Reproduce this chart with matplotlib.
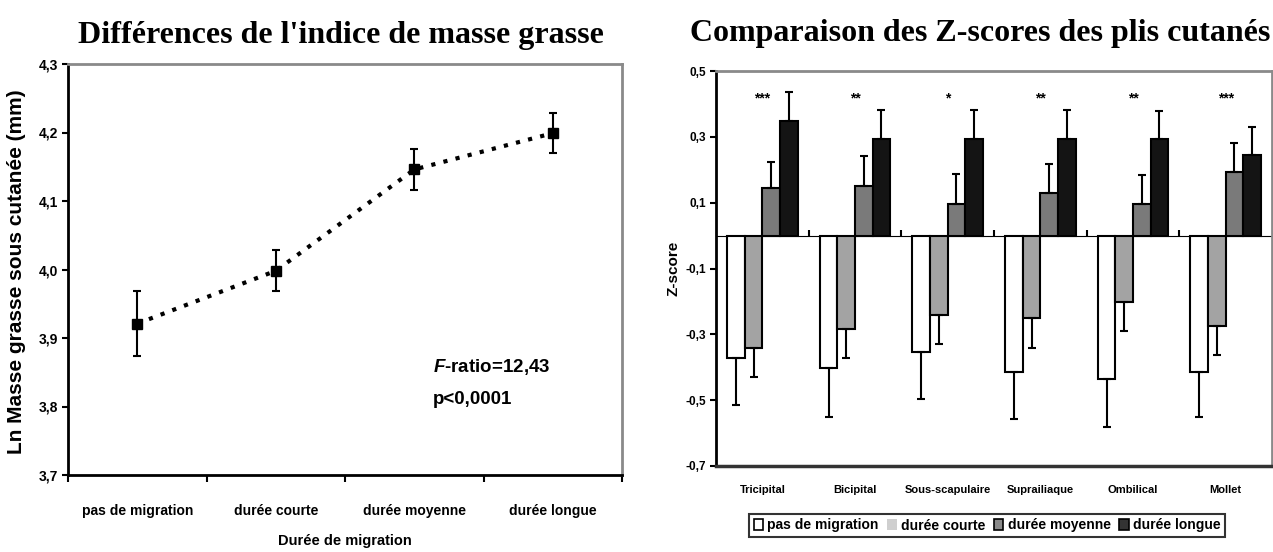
import matplotlib
matplotlib.use('Agg')
import matplotlib.pyplot as plt
import numpy as np
from matplotlib import font_manager
from matplotlib.patches import Patch

names = {f.name for f in font_manager.fontManager.ttflist}
SANS = 'Liberation Sans' if 'Liberation Sans' in names else 'DejaVu Sans'
SERIF = 'Liberation Serif' if 'Liberation Serif' in names else 'DejaVu Serif'

plt.rcParams['font.family'] = [SANS, 'DejaVu Sans']
plt.rcParams['font.weight'] = 'bold'
plt.rcParams['mathtext.fontset'] = 'custom'
plt.rcParams['mathtext.it'] = f'{SANS}:italic:bold'
plt.rcParams['mathtext.rm'] = f'{SANS}:bold'

# ---------------- data ----------------
durations = ['pas de migration', 'durée courte', 'durée moyenne', 'durée longue']
ln_fat_mean = [3.921, 3.998, 4.146, 4.199]
ln_fat_err = [0.047, 0.030, 0.030, 0.029]
left_yticks = [3.7, 3.8, 3.9, 4.0, 4.1, 4.2, 4.3]

sites = ['Tricipital', 'Bicipital', 'Sous-scapulaire', 'Suprailiaque', 'Ombilical', 'Mollet']
z_pas = [-0.371, -0.402, -0.353, -0.414, -0.436, -0.414]
z_pas_err = [0.144, 0.149, 0.142, 0.144, 0.145, 0.137]
z_courte = [-0.341, -0.284, -0.240, -0.249, -0.201, -0.274]
z_courte_err = [0.088, 0.089, 0.090, 0.091, 0.089, 0.089]
z_moyenne = [0.145, 0.150, 0.096, 0.128, 0.096, 0.194]
z_moyenne_err = [0.080, 0.092, 0.090, 0.089, 0.089, 0.088]
z_longue = [0.349, 0.292, 0.292, 0.292, 0.292, 0.245]
z_longue_err = [0.088, 0.089, 0.089, 0.089, 0.086, 0.086]
stars = ['***', '**', '*', '**', '**', '***']
right_yticks = [-0.7, -0.5, -0.3, -0.1, 0.1, 0.3, 0.5]

def fr(v):
    return f"{v:.1f}".replace('.', ',')

W, H = 1273, 552
fig = plt.figure(figsize=(W / 100, H / 100), dpi=100)

GREY = '#8a8a8a'

# ---------------- left chart ----------------
ax1 = fig.add_axes([68 / W, 1 - 475 / H, 554 / W, 411 / H])
x = np.arange(len(durations))
ax1.plot(x, ln_fat_mean, color='black', lw=3, linestyle=(0, (1, 2)),
         dash_capstyle='butt', zorder=2)
ax1.errorbar(x, ln_fat_mean, yerr=ln_fat_err, fmt='s', color='black',
             markersize=7, elinewidth=1.5, capsize=3, capthick=1.5, zorder=3)
ax1.set_xlim(-0.5, len(durations) - 0.5)
ax1.set_ylim(left_yticks[0], left_yticks[-1])
ax1.set_yticks(left_yticks)
ax1.set_yticklabels([fr(v) for v in left_yticks], fontsize=10, fontweight='bold')
ax1.set_xticks(x)
ax1.set_xticklabels(durations, fontsize=10, fontweight='bold')
ax1.set_xticks(np.arange(-0.5, len(durations), 1.0), minor=True)
ax1.tick_params(axis='x', which='major', length=0, pad=21)
ax1.tick_params(axis='x', which='minor', length=5, width=1.5, direction='out')
ax1.tick_params(axis='y', length=4, width=1.5, direction='out', pad=3)
for s in ['left', 'bottom']:
    ax1.spines[s].set_color('black')
    ax1.spines[s].set_linewidth(2)
for s in ['top', 'right']:
    ax1.spines[s].set_color(GREY)
    ax1.spines[s].set_linewidth(2)
ax1.set_xlabel('Durée de migration', fontsize=10.5, fontweight='bold')
ax1.xaxis.set_label_coords(0.5, 1 - (541 - 64) / 411)
ax1.xaxis.label.set_va('center')
ax1.set_ylabel('Ln Masse grasse sous cutanée (mm)', fontsize=15, fontweight='bold')
ax1.yaxis.set_label_coords((17 - 68) / 554, 1 - (272 - 64) / 411)
ax1.yaxis.label.set_va('center')
ax1.text(0.658, 1 - (367 - 64) / 411, r'$\it{F}$-ratio=12,43', transform=ax1.transAxes,
         fontsize=13.5, fontweight='bold', va='center', ha='left')
ax1.text(0.658, 1 - (400 - 64) / 411, 'p<0,0001', transform=ax1.transAxes,
         fontsize=13.5, fontweight='bold', va='center', ha='left')

fig.text(341 / W, 1 - 35 / H, "Différences de l'indice de masse grasse",
         family=[SERIF, 'DejaVu Serif'], fontsize=23, fontweight='bold',
         ha='center', va='center')

# ---------------- right chart ----------------
ax2 = fig.add_axes([716 / W, 1 - 466 / H, 556 / W, 395 / H])
n = len(sites)
xc = np.arange(n) + 0.5
bw = 0.19
series = [
    (z_pas, z_pas_err, 'white'),
    (z_courte, z_courte_err, '#a3a3a3'),
    (z_moyenne, z_moyenne_err, '#7a7a7a'),
    (z_longue, z_longue_err, '#141414'),
]
for i, (vals, errs, col) in enumerate(series):
    pos = xc + (i - 1.5) * bw
    ax2.bar(pos, vals, width=bw, color=col, edgecolor='black', linewidth=1.5, zorder=2)
    v = np.array(vals)
    e = np.array(errs)
    lower = np.where(v < 0, e, 0)
    upper = np.where(v > 0, e, 0)
    ax2.errorbar(pos, vals, yerr=[lower, upper], fmt='none', ecolor='black',
                 elinewidth=1.5, capsize=3, capthick=1.5, zorder=3)
for xi, st in zip(xc, stars):
    ax2.text(xi, 0.418, st, ha='center', va='center', fontsize=10, fontweight='bold')

ax2.set_xlim(0, n)
ax2.set_ylim(right_yticks[0], right_yticks[-1])
ax2.set_yticks(right_yticks)
ax2.set_yticklabels([fr(v) for v in right_yticks], fontsize=8.5, fontweight='bold')
ax2.tick_params(axis='y', length=4, width=1.5, direction='out', pad=3)
ax2.set_xticks(xc)
ax2.set_xticklabels(sites, fontsize=8, fontweight='bold')
ax2.tick_params(axis='x', length=0, pad=14)
ax2.spines['left'].set_color('black')
ax2.spines['left'].set_linewidth(2)
ax2.spines['bottom'].set_color('#333333')
ax2.spines['bottom'].set_linewidth(2.5)
for s in ['top', 'right']:
    ax2.spines[s].set_color(GREY)
    ax2.spines[s].set_linewidth(2)

zero_frac = (0 - right_yticks[0]) / (right_yticks[-1] - right_yticks[0])
sec = ax2.secondary_xaxis(zero_frac)
sec.set_xticks(np.arange(1, n))
sec.set_xticklabels([])
sec.tick_params(length=4, width=1.5, direction='out')
sec.spines['bottom'].set_linewidth(1.5)
sec.spines['bottom'].set_color('black')

ax2.set_ylabel('Z-score', fontsize=11, fontweight='bold')
ax2.yaxis.set_label_coords((673 - 716) / 556, 0.5)
ax2.yaxis.label.set_va('center')

fig.text(980 / W, 1 - 33 / H, 'Comparaison des Z-scores des plis cutanés',
         family=[SERIF, 'DejaVu Serif'], fontsize=23, fontweight='bold',
         ha='center', va='center')

handles = [
    Patch(facecolor='white', edgecolor='black', linewidth=1.2),
    Patch(facecolor='#cfcfcf', edgecolor='none'),
    Patch(facecolor='#8a8a8a', edgecolor='black', linewidth=1.2),
    Patch(facecolor='#333333', edgecolor='black', linewidth=1.2),
]
leg = fig.legend(handles, durations, loc='center', bbox_to_anchor=(987 / W, 1 - 525.5 / H),
                 ncol=4, frameon=True, fancybox=False,
                 handlelength=0.7, handleheight=0.9, handletextpad=0.3,
                 columnspacing=0.6, borderpad=0.35, prop={'weight': 'bold', 'size': 10})
leg.get_frame().set_edgecolor('black')
leg.get_frame().set_linewidth(1.5)

fig.savefig('out.png', dpi=100)
